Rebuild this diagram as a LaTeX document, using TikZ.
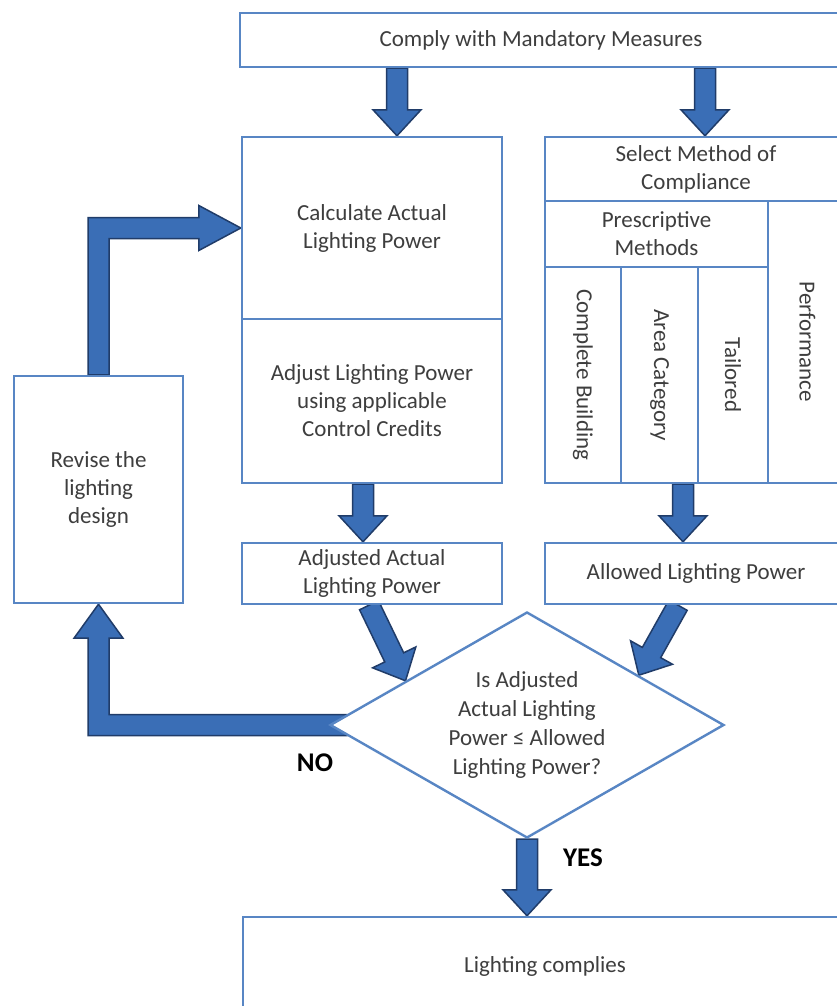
\documentclass[tikz,border=0pt]{standalone}
\usepackage{fontspec}
\setmainfont{Carlito}
\usetikzlibrary{calc,shapes.geometric}
\pgfdeclarelayer{back}
\pgfdeclarelayer{arrows}
\pgfsetlayers{back,arrows,main}
\definecolor{boxblue}{RGB}{88,134,196}
\definecolor{arrfill}{RGB}{58,110,182}
\definecolor{arrline}{RGB}{32,60,105}
\definecolor{txt}{RGB}{62,62,62}
\tikzset{
  box/.style={draw=boxblue, line width=2.4pt, fill=white, inner sep=0pt, text=txt,
    font=\fontsize{23}{28}\selectfont, align=center},
  decbox/.style={box, diamond, aspect=1.74, font=\fontsize{23}{29}\selectfont},
  blockarrow/.style={fill=arrfill, draw=arrline, line width=1.5pt, line join=miter},
  yesno/.style={font=\fontsize{27}{30}\selectfont\bfseries, text=black, inner sep=0pt}
}
\def\arsw{10.5}\def\arhw{24}\def\arhl{26}
\newcommand\blk[2]{%
  \coordinate (bA) at #1;
  \coordinate (bB) at #2;
  \coordinate (bH) at ($(bB)!\arhl pt!(bA)$);
  \filldraw[blockarrow] ($(bA)!\arsw pt!90:(bB)$) -- ($(bH)!\arsw pt!90:(bB)$)
    -- ($(bH)!\arhw pt!90:(bB)$) -- (bB) -- ($(bH)!\arhw pt!-90:(bB)$)
    -- ($(bH)!\arsw pt!-90:(bB)$) -- ($(bA)!\arsw pt!-90:(bB)$) -- cycle;
}
\begin{document}
\begin{tikzpicture}[x=1pt,y=-1pt]
\useasboundingbox (0,0) rectangle (837,1006);
\begin{pgfonlayer}{back}
\fill[white] (0,0) rectangle (837,1006);
\end{pgfonlayer}

% boxes
\node[box, minimum width=602pt, minimum height=54pt] (mand) at (541,40) {Comply with Mandatory Measures};
\node[box, minimum width=260pt, minimum height=182pt] (calc) at (372,228) {Calculate Actual\\Lighting Power};
\node[box, minimum width=260pt, minimum height=164pt] (adj) at (372,401) {Adjust Lighting Power\\using applicable\\Control Credits};
\node[box, minimum width=302pt, minimum height=64pt] (sel) at (696,169) {Select Method of\\Compliance};
\node[box, minimum width=223pt, minimum height=66pt] (presc) at (656.5,234) {Prescriptive\\Methods};
\node[box, minimum width=76pt, minimum height=216pt] (cb) at (583,375) {\rotatebox{-90}{Complete Building}};
\node[box, minimum width=77pt, minimum height=216pt] (ac) at (659.5,375) {\rotatebox{-90}{Area Category}};
\node[box, minimum width=70pt, minimum height=216pt] (tail) at (733,375) {\rotatebox{-90}{Tailored}};
\node[box, minimum width=79pt, minimum height=282pt] (perf) at (807.5,342) {\rotatebox{-90}{Performance}};
\node[box, minimum width=169pt, minimum height=227pt] (revise) at (98.5,489.5) {Revise the\\lighting\\design};
\node[box, minimum width=260pt, minimum height=61pt] (adjd) at (372,573.5) {Adjusted Actual\\Lighting Power};
\node[box, minimum width=302pt, minimum height=61pt] (allow) at (696,573.5) {Allowed Lighting Power};
\node[decbox, minimum width=394pt, minimum height=226pt] (dec) at (527,725) {Is Adjusted\\Actual Lighting\\Power ≤ Allowed\\Lighting Power?};
\node[box, minimum width=604pt, minimum height=98pt] (final) at (545,966) {Lighting complies};

\node[yesno] (no) at (315,763) {NO};
\node[yesno] (yes) at (583,858) {YES};

\coordinate (c1) at (397,0);
\coordinate (c2) at (705,0);
\coordinate (c3) at (363,0);
\coordinate (c4) at (683,0);

\begin{pgfonlayer}{arrows}
\blk{(mand.south -| c1)}{(calc.north -| c1)}
\blk{(mand.south -| c2)}{(sel.north -| c2)}
\blk{(adj.south -| c3)}{(adjd.north -| c3)}
\blk{(ac.south -| c4)}{(allow.north -| c4)}
\blk{($(adjd.south)+(-3,0)$)}{(dec.160)}
\blk{($(allow.south)+(-18,0)$)}{(dec.24)}
\blk{(dec.south)}{(dec.south |- final.north)}
% loop back arrow: revise -> calc
\coordinate (lA) at (revise.north);
\coordinate (lC) at (revise.north |- calc.west);
\coordinate (lB) at (calc.west);
\filldraw[blockarrow] ($(lA)+(-\arsw,0)$) -- ($(lC)+(-\arsw,-\arsw)$) -- ($(lB)+(-42,-\arsw)$)
  -- ($(lB)+(-42,-22.5)$) -- (lB) -- ($(lB)+(-42,22.5)$) -- ($(lB)+(-42,\arsw)$)
  -- ($(lC)+(\arsw,\arsw)$) -- ($(lA)+(\arsw,0)$) -- cycle;
% NO arrow: dec -> revise
\coordinate (nA) at ($(dec.west)+(18,0)$);
\coordinate (nC) at (revise.south |- dec.west);
\coordinate (nB) at (revise.south);
\filldraw[blockarrow] ($(nA)+(0,-\arsw)$) -- ($(nC)+(\arsw,-\arsw)$) -- ($(nB)+(\arsw,34)$)
  -- ($(nB)+(24.5,34)$) -- (nB) -- ($(nB)+(-24.5,34)$) -- ($(nB)+(-\arsw,34)$)
  -- ($(nC)+(-\arsw,\arsw)$) -- ($(nA)+(0,\arsw)$) -- cycle;
\end{pgfonlayer}
\end{tikzpicture}
\end{document}
